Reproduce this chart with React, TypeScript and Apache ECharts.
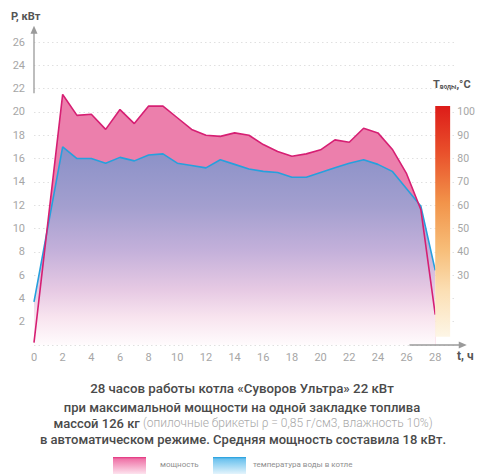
import React, { useEffect, useRef } from "react";
import * as echarts from "echarts";

// hours (x), power in kW (pink), water temperature in °C (blue)
const powerHours = [0, 2, 3, 4, 5, 6, 7, 8, 9, 10, 11, 12, 13, 14, 15, 16, 17, 18, 19, 20, 21, 22, 23, 24, 25, 26, 27, 28];
const powerKW = [0.2, 21.5, 19.7, 19.8, 18.5, 20.2, 19.0, 20.5, 20.5, 19.5, 18.5, 18.0, 17.9, 18.2, 18.0, 17.2, 16.6, 16.2, 16.4, 16.75, 17.6, 17.4, 18.6, 18.2, 16.8, 14.7, 11.6, 2.6];
const tempHours = [0, 2, 3, 4, 5, 6, 7, 8, 9, 10, 11, 12, 13, 14, 15, 16, 17, 18, 19, 20, 21, 22, 23, 24, 25, 26, 27, 28];
const waterTempC = [18.5, 85, 80, 80, 78, 80.5, 79, 81.5, 82, 78, 77, 76, 79.5, 77.5, 75.5, 74.5, 74, 72, 72, 74, 76, 78, 79.5, 77.5, 74.5, 67, 59.5, 32];
const tempScaleLabels = [30, 40, 50, 60, 70, 80, 90, 100];
const colorBarRange = [[28, 3.5, 102.5]];

const captionLine1 = "28 часов работы котла «Суворов Ультра» 22 кВт";
const captionLine2 = "при максимальной мощности на одной закладке топлива";
const captionLine3a = "массой 126 кг ";
const captionLine3b = "(опилочные брикеты ρ = 0,85 г/см3, влажность 10%)";
const captionLine4 = "в автоматическом режиме. Средняя мощность составила 18 кВт.";
const legendNames = ["мощность", "температура воды в котле"];

const FONT = "Roboto, 'Noto Sans', sans-serif";

export default function App() {
  const ref = useRef<HTMLDivElement>(null);

  useEffect(() => {
    if (!ref.current) return;
    const chart = echarts.init(ref.current, null, { renderer: "svg" });
    const powerData = powerHours.map((h, i) => [h, powerKW[i]]);
    const tempData = tempHours.map((h, i) => [h, waterTempC[i]]);

    const blueGrad = new echarts.graphic.LinearGradient(0, 0, 0, 1, [
      { offset: 0, color: "#8990c7" },
      { offset: 0.3, color: "#a39fcf" },
      { offset: 0.52, color: "#c3b0da" },
      { offset: 0.72, color: "#e6c9e3" },
      { offset: 0.86, color: "#f8e4ef" },
      { offset: 1, color: "#fffbfd" },
    ]);
    const barGrad = new echarts.graphic.LinearGradient(0, 0, 0, 1, [
      { offset: 0, color: "#dd1c19" },
      { offset: 0.2, color: "#e9502b" },
      { offset: 0.42, color: "#f2944a" },
      { offset: 0.62, color: "#f7bd78" },
      { offset: 0.8, color: "#fbdfb4" },
      { offset: 1, color: "#fdf6e6" },
    ]);

    chart.setOption({
      animation: false,
      textStyle: { fontFamily: FONT },
      grid: { left: 34, right: 19, top: 42, bottom: 129, containLabel: false },
      xAxis: {
        type: "value",
        min: 0,
        max: 29.4,
        interval: 2,
        axisLine: { show: false },
        axisTick: { show: false },
        splitLine: { show: false },
        axisLabel: { showMaxLabel: false, color: "#a6a6a6", fontSize: 11, margin: 7, fontFamily: FONT },
      },
      yAxis: [
        {
          type: "value",
          min: 0,
          max: 26,
          interval: 2,
          axisLine: { show: false },
          axisTick: { show: false },
          axisLabel: {
            color: "#a6a6a6",
            fontSize: 11,
            margin: 9,
            fontFamily: FONT,
            formatter: (v: number) => (v === 0 ? "" : String(v)),
          },
          splitLine: { show: true, lineStyle: { color: "#e0e0e0", type: [1.5, 3], width: 1 } },
        },
        {
          type: "value",
          position: "right",
          min: 0,
          max: 130,
          interval: 10,
          axisLine: { show: false },
          axisTick: { show: false },
          splitLine: { show: false },
          axisLabel: {
            color: "#a6a6a6",
            fontSize: 10.5,
            margin: 2,
            fontFamily: FONT,
            formatter: (v: number) => (tempScaleLabels.indexOf(v) >= 0 ? String(v) : ""),
          },
        },
      ],
      series: [
        {
          type: "line",
          name: "power-area",
          data: powerData,
          symbol: "none",
          lineStyle: { width: 0, opacity: 0 },
          areaStyle: { color: "#ec7fac", opacity: 1 },
          z: 2,
        },
        {
          type: "line",
          name: legendNames[1],
          yAxisIndex: 1,
          data: tempData,
          symbol: "none",
          lineStyle: { color: "#26a0dd", width: 1.6 },
          areaStyle: { color: blueGrad, opacity: 1 },
          z: 3,
        },
        {
          type: "line",
          name: legendNames[0],
          data: powerData,
          symbol: "none",
          lineStyle: { color: "#d61f73", width: 1.6 },
          z: 4,
        },
        {
          type: "custom",
          yAxisIndex: 1,
          data: colorBarRange,
          encode: { x: 0, y: [1, 2] },
          renderItem: (params: any, api: any) => {
            const p0 = api.coord([api.value(0), api.value(2)]);
            const p1 = api.coord([api.value(0) + 1.04, api.value(1)]);
            return {
              type: "rect",
              shape: { x: p0[0], y: p0[1], width: p1[0] - p0[0], height: p1[1] - p0[1] },
              style: { fill: barGrad },
            };
          },
          z: 5,
        },
      ],
      graphic: [
        {
          type: "text",
          left: 11,
          top: 11,
          style: { text: "P, кВт", fill: "#555", font: `bold 11px ${FONT}` },
        },
        {
          type: "text",
          left: 457,
          top: 350,
          style: { text: "t, ч", fill: "#555", font: `bold 12px ${FONT}` },
        },
        {
          type: "text",
          left: 433,
          top: 79,
          style: {
            text: "{t|T}{s|воды}{t|,°C}",
            rich: {
              t: { fill: "#555", fontSize: 11, fontWeight: "bold", fontFamily: FONT, verticalAlign: "bottom", lineHeight: 14 },
              s: { fill: "#555", fontSize: 6.5, fontWeight: "bold", fontFamily: FONT, verticalAlign: "bottom", lineHeight: 14, padding: [4, 0, 0, 0] },
            },
          },
        },
        {
          type: "text",
          x: 242,
          y: 388,
          style: { text: captionLine1, fill: "#4a4a4a", font: `500 13.3px ${FONT}`, textAlign: "center", textVerticalAlign: "middle" },
        },
        {
          type: "text",
          x: 242,
          y: 407,
          style: { text: captionLine2, fill: "#4a4a4a", font: `500 13px ${FONT}`, textAlign: "center", textVerticalAlign: "middle" },
        },
        {
          type: "text",
          x: 243,
          y: 423,
          style: {
            text: `{b|${captionLine3a}}{l|${captionLine3b}}`,
            textAlign: "center",
            textVerticalAlign: "middle",
            rich: {
              b: { fill: "#4a4a4a", fontSize: 13, fontWeight: 500, fontFamily: FONT },
              l: { fill: "#a8a8a8", fontSize: 12, fontWeight: 300, fontFamily: FONT },
            },
          },
        },
        {
          type: "text",
          x: 243,
          y: 439,
          style: { text: captionLine4, fill: "#4a4a4a", font: `500 13px ${FONT}`, textAlign: "center", textVerticalAlign: "middle" },
        },
        {
          type: "rect",
          shape: { x: 113, y: 457, width: 33, height: 17 },
          style: {
            fill: new echarts.graphic.LinearGradient(0, 0, 0, 1, [
              { offset: 0, color: "#e2307c" },
              { offset: 0.12, color: "#ef74a8" },
              { offset: 1, color: "#fde3ee" },
            ]),
          },
        },
        {
          type: "text",
          left: 160,
          top: 460,
          style: { text: legendNames[0], fill: "#8f8f8f", font: `8px ${FONT}` },
        },
        {
          type: "rect",
          shape: { x: 213, y: 457, width: 33, height: 17 },
          style: {
            fill: new echarts.graphic.LinearGradient(0, 0, 0, 1, [
              { offset: 0, color: "#1e9cdc" },
              { offset: 0.12, color: "#6cc2ee" },
              { offset: 1, color: "#e4f4fc" },
            ]),
          },
        },
        {
          type: "text",
          left: 253,
          top: 460,
          style: { text: legendNames[1], fill: "#8f8f8f", font: `8px ${FONT}` },
        },
      ],
    });

    // decorative axis arrows, positioned through the axes' own scales
    const x0 = chart.convertToPixel({ xAxisIndex: 0 }, 0) as number;
    const yLow = chart.convertToPixel({ yAxisIndex: 0 }, 21.6) as number;
    const yTip = chart.convertToPixel({ yAxisIndex: 0 }, 27.4) as number;
    const y0 = chart.convertToPixel({ yAxisIndex: 0 }, 0) as number;
    const xStart = chart.convertToPixel({ xAxisIndex: 0 }, 26.2) as number;
    const xTip = chart.convertToPixel({ xAxisIndex: 0 }, 30.2) as number;
    const arrowColor = "#9a9a9a";
    chart.setOption({
      graphic: [
        {
          id: "yArrowLine",
          type: "line",
          shape: { x1: x0, y1: yLow, x2: x0, y2: yTip + 4 },
          style: { stroke: arrowColor, lineWidth: 1.3 },
          z: 10,
        },
        {
          id: "yArrowHead",
          type: "polygon",
          shape: { points: [[x0, yTip], [x0 - 3.5, yTip + 8], [x0 + 3.5, yTip + 8]] },
          style: { fill: arrowColor },
          z: 10,
        },
        {
          id: "xArrowLine",
          type: "line",
          shape: { x1: xStart, y1: y0, x2: xTip - 4, y2: y0 },
          style: { stroke: arrowColor, lineWidth: 1.3 },
          z: 10,
        },
        {
          id: "xArrowHead",
          type: "polygon",
          shape: { points: [[xTip, y0], [xTip - 8, y0 - 3.5], [xTip - 8, y0 + 3.5]] },
          style: { fill: arrowColor },
          z: 10,
        },
      ],
    });

    return () => chart.dispose();
  }, []);

  return (
    <div
      ref={ref}
      style={{ position: "fixed", left: 0, top: 0, width: 478, height: 474, background: "#fff" }}
    />
  );
}
